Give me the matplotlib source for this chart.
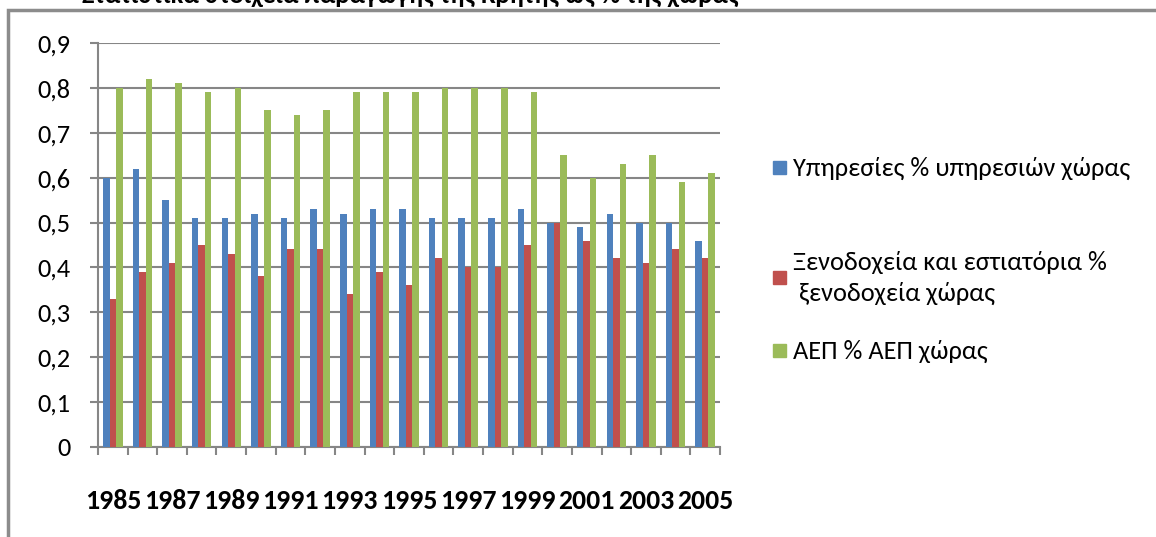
import matplotlib
matplotlib.use("Agg")
import matplotlib.pyplot as plt
from matplotlib.patches import Rectangle
import numpy as np

plt.rcParams['font.family'] = ['Carlito', 'DejaVu Sans']

years = list(range(1985, 2006))
ypiresies = [0.60, 0.62, 0.55, 0.51, 0.51, 0.52, 0.51, 0.53, 0.52, 0.53, 0.53,
             0.51, 0.51, 0.51, 0.53, 0.50, 0.49, 0.52, 0.50, 0.50, 0.46]
xenodoxeia = [0.33, 0.39, 0.41, 0.45, 0.43, 0.38, 0.44, 0.44, 0.34, 0.39, 0.36,
              0.42, 0.40, 0.40, 0.45, 0.50, 0.46, 0.42, 0.41, 0.44, 0.42]
aep = [0.80, 0.82, 0.81, 0.79, 0.80, 0.75, 0.74, 0.75, 0.79, 0.79, 0.79,
       0.80, 0.80, 0.80, 0.79, 0.65, 0.60, 0.63, 0.65, 0.59, 0.61]
labels = ["Υπηρεσίες % υπηρεσιών χώρας",
          "Ξενοδοχεία και εστιατόρια %\n ξενοδοχεία χώρας",
          "ΑΕΠ % ΑΕΠ χώρας"]
colors = ["#4F81BD", "#C0504D", "#9BBB59"]

W, H = 1156, 537
fig = plt.figure(figsize=(W / 100, H / 100), dpi=100)
ax = fig.add_axes([98 / W, 1 - 447 / H, (720 - 98) / W, (447 - 43) / H])

x = np.arange(len(years))
bw = 0.22
for i, (vals, c) in enumerate(zip([ypiresies, xenodoxeia, aep], colors)):
    ax.bar(x + (i - 1) * bw, vals, bw, color=c, zorder=3)

grid_c = "#868686"
ax.set_xlim(-0.5, len(years) - 0.5)
ax.set_ylim(0, 0.9)
ax.set_yticks(np.arange(0, 0.91, 0.1))
ax.set_yticklabels(["0"] + [("%.1f" % v).replace(".", ",") for v in np.arange(0.1, 0.91, 0.1)],
                   fontsize=19)
ax.grid(axis="y", color=grid_c, linewidth=1.5, zorder=0)
ax.set_xticks(x[::2])
ax.set_xticklabels([str(y) for y in years[::2]], fontsize=20, fontweight="bold")
ax.set_xticks(np.arange(-0.5, len(years), 1), minor=True)
ax.tick_params(axis="x", which="major", length=0, pad=30)
ax.tick_params(axis="x", which="minor", length=6, width=1.5, color=grid_c)
ax.tick_params(axis="y", length=6, width=1.5, color=grid_c, pad=14)
for s in ["top", "right"]:
    ax.spines[s].set_visible(False)
for s in ["left", "bottom"]:
    ax.spines[s].set_color(grid_c)
    ax.spines[s].set_linewidth(1.5)

# legend placed like the Excel chart
leg_y = [168, 278, 351]
for lab, c, yp in zip(labels, colors, leg_y):
    fig.add_artist(Rectangle((773 / W, 1 - (yp + 6) / H), 13 / W, 13 / H,
                             transform=fig.transFigure, color=c))
    fig.text(793 / W, 1 - yp / H, lab, fontsize=19, va="center", ha="left",
             linespacing=1.45)

# chart frame
fig.add_artist(Rectangle((8 / W, -0.1), 1.2, 1 - 10 / H + 0.1, transform=fig.transFigure,
                         fill=False, edgecolor="#8c8c8c", linewidth=2.5))
# title, cut off by the top edge as in the original
fig.text(410 / W, 1 - 3 / H, "Στατιστικά στοιχεία παραγωγής της Κρήτης ως % της χώρας",
         fontsize=19, fontweight="bold", ha="center", va="baseline")

fig.savefig("out.png", dpi=100)
